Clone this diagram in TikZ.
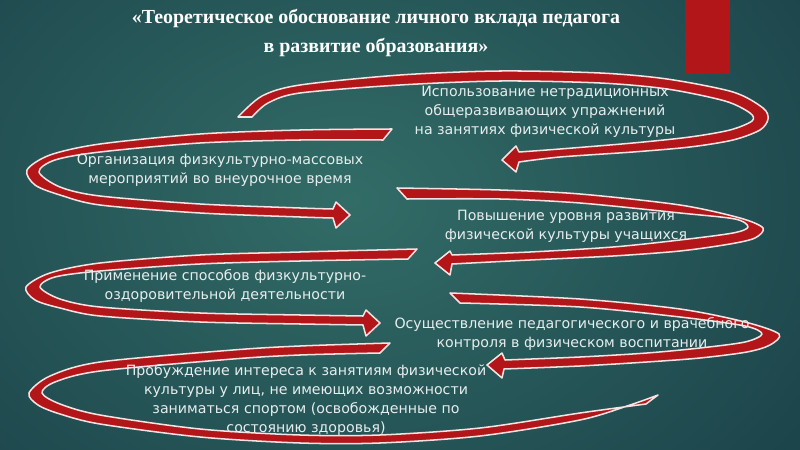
\documentclass[tikz,border=0pt]{standalone}
\usepackage{fontspec}
\setmainfont{DejaVu Sans}
\newfontfamily\titlefont{Liberation Serif}
\definecolor{bgdark}{RGB}{18, 50, 62}
\definecolor{bglight}{RGB}{50, 108, 103}
\definecolor{ribbonred}{RGB}{178, 22, 24}
\definecolor{ribbonedge}{RGB}{246, 226, 226}
\definecolor{textgray}{RGB}{230, 237, 237}
\tikzset{
    ribbon/.style={fill=ribbonred, draw=ribbonedge, line width=1.3pt,
        line join=round},
    point/.style={text=textgray, align=center,
        font=\fontsize{12.1}{16}\selectfont, inner sep=0pt},
    heading/.style={text=white, align=center,
        font=\titlefont\bfseries\fontsize{17}{25.5}\selectfont, inner sep=0pt},
}
\begin{document}
\begin{tikzpicture}[x=0.03cm, y=-0.03cm]
    \useasboundingbox (0, 0) rectangle (800, 450);
    \clip (0, 0) rectangle (800, 450);
    \shade[inner color=bglight, outer color=bgdark] (-450, -400) rectangle (1150, 800);
    \fill[ribbonred] (685, 0) rectangle (730, 74);

    \node[heading] (title) at (376, 33)
        {«Теоретическое обоснование личного вклада педагога\\
        в развитие образования»};

    % upper loop, back to the left
    \draw[ribbon] plot[smooth] coordinates {(238,117) (262,96) (300,85)
            (400,75) (500,71) (600,73) (667,79) (733,92) (763,108) (768,119)
            (760,130) (733,140) (690,147) (633,152) (560,157) (519,162)}
        -- (516,172) -- (502,160) -- (516,146) -- (519,152)
        -- plot[smooth] coordinates {(519,152) (560,149) (633,143) (690,137)
            (730,130) (752,121) (750,113) (725,101) (667,89) (600,83) (500,81)
            (400,85) (300,93) (268,103) (252,117)} -- cycle;
    % second loop, to the right
    \draw[ribbon] plot[smooth] coordinates {(392,129) (300,130) (200,134)
            (100,144) (50,155) (27,170) (35,185) (60,195) (100,205) (200,213)
            (300,217) (333,218)}
        -- (336,228) -- (350,215) -- (336,202) -- (333,209)
        -- plot[smooth] coordinates {(333,209) (300,208) (200,204) (100,196)
            (60,187) (39,172) (55,160) (100,152) (200,143) (300,140)
            (383,140)} -- cycle;
    % third loop, to the left
    \draw[ribbon] plot[smooth] coordinates {(397,188) (500,190) (580,194)
            (680,205) (740,218) (763,228) (755,238) (730,244) (680,251)
            (613,256) (530,260) (452,264)}
        -- (450,275) -- (435,263) -- (450,251) -- (452,255)
        -- plot[smooth] coordinates {(452,255) (530,252) (613,247) (680,240)
            (733,233) (748,227) (735,219) (680,213) (580,203) (500,199)
            (407,199)} -- cycle;
    % fourth loop, to the right
    \draw[ribbon] plot[smooth] coordinates {(417,249) (300,252) (200,255)
            (100,263) (50,273) (26,287) (35,300) (60,308) (100,316) (200,322)
            (300,324) (363,325)}
        -- (366,336) -- (380,323) -- (366,310) -- (363,316)
        -- plot[smooth] coordinates {(363,316) (300,315) (200,313) (100,307)
            (60,299) (40,287) (55,277) (100,271) (200,264) (300,261)
            (408,259)} -- cycle;
    % fifth loop, to the left
    \draw[ribbon] plot[smooth] coordinates {(450,293) (580,299) (680,309)
            (745,322) (779,334) (770,345) (747,352) (700,358) (647,362)
            (580,366) (504,369)}
        -- (502,378) -- (487,365) -- (502,353) -- (505,360)
        -- plot[smooth] coordinates {(505,360) (580,357) (647,353) (700,348)
            (745,342) (762,334) (745,326) (680,317) (580,307)
            (460,303)} -- cycle;
    % last loop, open end
    \draw[ribbon] plot[smooth] coordinates {(390,343) (300,346) (233,350)
            (100,362) (50,376) (29,393) (38,405) (60,414) (100,424) (200,437)
            (300,443) (380,443) (480,436) (580,420) (630,405) (658,395)}
        -- (646,404)
        -- plot[smooth] coordinates {(646,404) (580,413) (480,428) (380,435)
            (300,435) (200,429) (100,415) (60,404) (42,393) (55,382)
            (100,371) (233,359) (300,355) (380,353)} -- cycle;

    \node[point] (use) at (545, 112)
        {Использование нетрадиционных\\ общеразвивающих упражнений\\
        на занятиях физической культуры};
    \node[point] (events) at (220, 170)
        {Организация физкультурно-массовых\\
        мероприятий во внеурочное время};
    \node[point] (level) at (566, 226)
        {Повышение уровня развития\\ физической культуры учащихся};
    \node[point] (health) at (225, 286)
        {Применение способов физкультурно-\\ оздоровительной деятельности};
    \node[point] (control) at (572, 334)
        {Осуществление педагогического и врачебного\\
        контроля в физическом воспитании};
    \node[point] (interest) at (306, 400)
        {Пробуждение интереса к занятиям физической\\
        культуры у лиц, не имеющих возможности\\
        заниматься спортом (освобожденные по\\ состоянию здоровья)};
\end{tikzpicture}
\end{document}
